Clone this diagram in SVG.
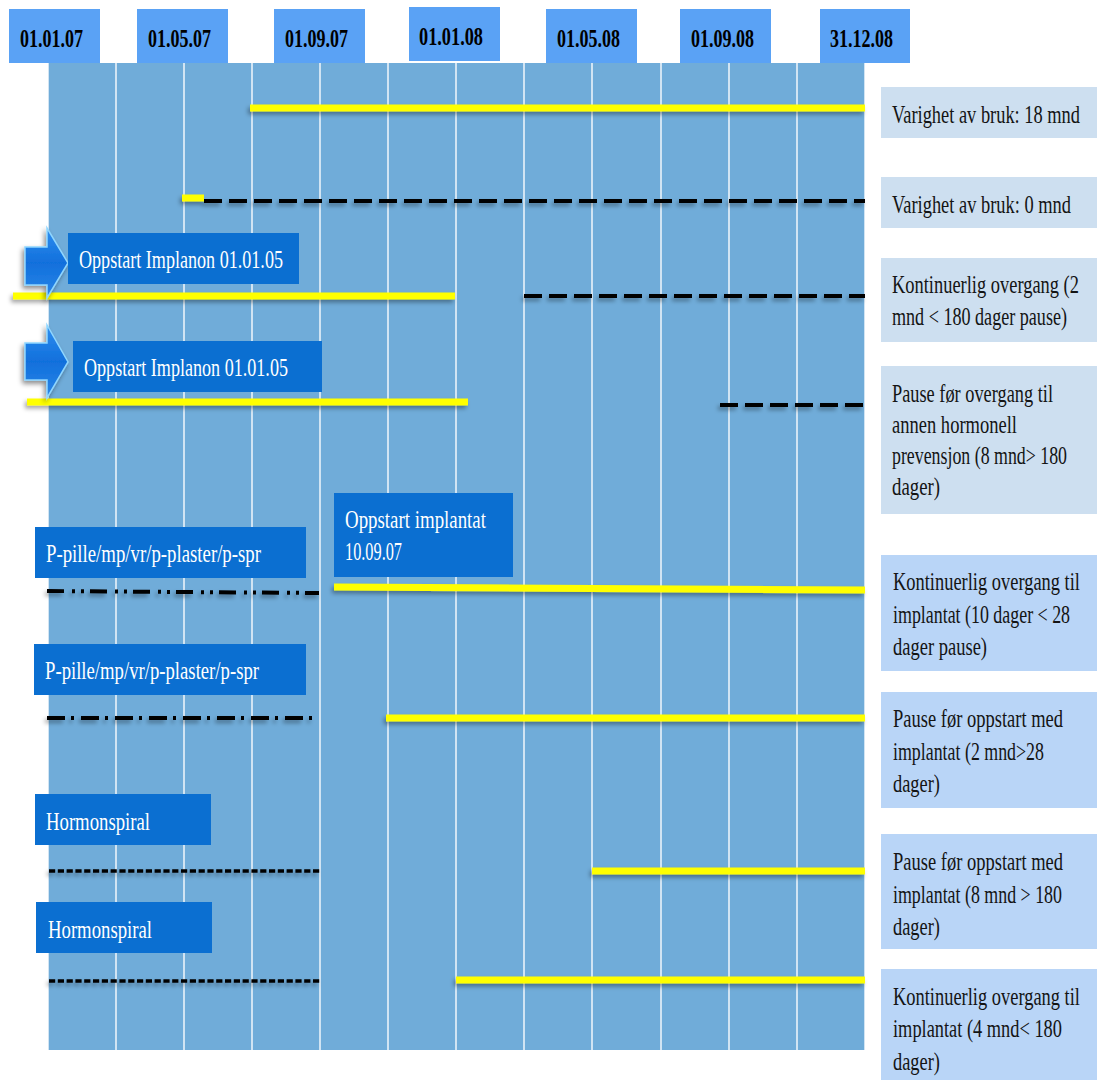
<svg xmlns="http://www.w3.org/2000/svg" width="1097" height="1080" viewBox="0 0 1097 1080">
<defs>
<style>
.hdr{fill:#5aa2f5}
.hdrt{font-family:"Liberation Serif",serif;font-weight:bold;font-size:26px;fill:#000}
.box{fill:#0b6fd1}
.boxt{font-family:"Liberation Serif",serif;font-size:26px;fill:#fff}
.lab1{fill:#cddff0}
.lab2{fill:#b9d5f7}
.labt{font-family:"Liberation Serif",serif;font-size:26px;fill:#141414}
.vl{stroke:#ffffff;stroke-width:1.6;opacity:0.85}
.yel{stroke:#ffff00;stroke-width:7;fill:none}
.dash{stroke:#000;stroke-width:4;stroke-dasharray:18 7;fill:none}
.dd{stroke:#000;stroke-width:4;stroke-dasharray:17 8 3 6 3 6;fill:none}
.dot1{stroke:#000;stroke-width:4;stroke-dasharray:18 6 3 7;fill:none}
.fine{stroke:#000;stroke-width:3.5;stroke-dasharray:6.2 2.6;fill:none}
</style>
<filter id="sh" x="-10%" y="-200%" width="120%" height="500%">
<feDropShadow dx="-2" dy="3" stdDeviation="2" flood-color="#000" flood-opacity="0.35"/>
</filter>
<filter id="ash" x="-40%" y="-40%" width="180%" height="180%">
<feDropShadow dx="-2" dy="3" stdDeviation="2.5" flood-color="#000" flood-opacity="0.45"/>
</filter>
<linearGradient id="ag" x1="0" y1="0" x2="0" y2="1">
<stop offset="0" stop-color="#2f8ef0"/>
<stop offset="0.5" stop-color="#1170dc"/>
<stop offset="1" stop-color="#2a86e8"/>
</linearGradient>
</defs>

<rect x="0" y="0" width="1097" height="1080" fill="#ffffff"/>

<g id="grid">
<rect x="48" y="63" width="817" height="987" fill="#70acd9"/>
<line class="vl" x1="48" y1="63" x2="48" y2="1050"/>
<line class="vl" x1="116" y1="63" x2="116" y2="1050"/>
<line class="vl" x1="184" y1="63" x2="184" y2="1050"/>
<line class="vl" x1="252" y1="63" x2="252" y2="1050"/>
<line class="vl" x1="320" y1="63" x2="320" y2="1050"/>
<line class="vl" x1="388" y1="63" x2="388" y2="1050"/>
<line class="vl" x1="456" y1="63" x2="456" y2="1050"/>
<line class="vl" x1="524" y1="63" x2="524" y2="1050"/>
<line class="vl" x1="592" y1="63" x2="592" y2="1050"/>
<line class="vl" x1="661" y1="63" x2="661" y2="1050"/>
<line class="vl" x1="729" y1="63" x2="729" y2="1050"/>
<line class="vl" x1="797" y1="63" x2="797" y2="1050"/>
<line class="vl" x1="865" y1="63" x2="865" y2="1050"/>
</g>

<g id="h1"><rect class="hdr" x="9" y="9" width="91" height="54"/><text class="hdrt" transform="translate(20,47) scale(0.7,1)" textLength="90" lengthAdjust="spacingAndGlyphs">01.01.07</text></g>
<g id="h2"><rect class="hdr" x="137" y="9" width="91" height="54"/><text class="hdrt" transform="translate(148,47) scale(0.7,1)" textLength="90" lengthAdjust="spacingAndGlyphs">01.05.07</text></g>
<g id="h3"><rect class="hdr" x="274" y="9" width="91" height="54"/><text class="hdrt" transform="translate(285,47) scale(0.7,1)" textLength="90" lengthAdjust="spacingAndGlyphs">01.09.07</text></g>
<g id="h4"><rect class="hdr" x="409" y="7" width="91" height="54"/><text class="hdrt" transform="translate(419,45) scale(0.7,1)" textLength="91.4" lengthAdjust="spacingAndGlyphs">01.01.08</text></g>
<g id="h5"><rect class="hdr" x="546" y="9" width="91" height="54"/><text class="hdrt" transform="translate(557,47) scale(0.7,1)" textLength="90" lengthAdjust="spacingAndGlyphs">01.05.08</text></g>
<g id="h6"><rect class="hdr" x="680" y="9" width="91" height="54"/><text class="hdrt" transform="translate(691,47) scale(0.7,1)" textLength="90" lengthAdjust="spacingAndGlyphs">01.09.08</text></g>
<g id="h7"><rect class="hdr" x="820" y="9" width="90" height="54"/><text class="hdrt" transform="translate(830,47) scale(0.7,1)" textLength="90" lengthAdjust="spacingAndGlyphs">31.12.08</text></g>

<g id="connectors" filter="url(#sh)">
<line class="yel" x1="250" y1="108" x2="865" y2="108"/>
<line class="dash" x1="204" y1="201" x2="865" y2="201"/>
<line class="yel" x1="182" y1="198" x2="204" y2="198"/>
<line class="yel" x1="13" y1="296" x2="455" y2="296"/>
<line class="dash" x1="524" y1="296" x2="865" y2="296"/>
<line class="yel" x1="27" y1="402" x2="468" y2="402"/>
<line class="dash" x1="720" y1="405" x2="865" y2="405"/>
<line class="dd" x1="47" y1="591" x2="319" y2="593"/>
<line class="yel" x1="334" y1="587" x2="865" y2="590"/>
<line class="dot1" x1="47" y1="718" x2="313" y2="718"/>
<line class="yel" x1="386" y1="718" x2="865" y2="718"/>
<line class="fine" x1="49" y1="871" x2="320" y2="871"/>
<line class="yel" x1="592" y1="871" x2="865" y2="871"/>
<line class="fine" x1="49" y1="981" x2="320" y2="981"/>
<line class="yel" x1="456" y1="980" x2="865" y2="980"/>
</g>

<g id="arrow1" filter="url(#ash)"><path d="M25,247 L47,247 L47,228 L68,263 L47,298 L47,285 L25,285 Z" fill="url(#ag)" stroke="#8fd6ff" stroke-width="1.5" stroke-linejoin="miter"/></g>
<g id="arrow2" filter="url(#ash)"><path d="M25,343 L47,343 L47,325 L68,362 L47,398 L47,380 L25,380 Z" fill="url(#ag)" stroke="#8fd6ff" stroke-width="1.5" stroke-linejoin="miter"/></g>

<g id="b1"><rect class="box" x="68" y="233" width="231" height="51"/><text class="boxt" transform="translate(79,268) scale(0.7,1)" textLength="291.4" lengthAdjust="spacingAndGlyphs">Oppstart Implanon 01.01.05</text></g>
<g id="b2"><rect class="box" x="73" y="341" width="249" height="51"/><text class="boxt" transform="translate(84,376) scale(0.7,1)" textLength="291.4" lengthAdjust="spacingAndGlyphs">Oppstart Implanon 01.01.05</text></g>
<g id="b3"><rect class="box" x="35" y="527" width="271" height="51"/><text class="boxt" transform="translate(46,562) scale(0.7,1)" textLength="307.1" lengthAdjust="spacingAndGlyphs">P-pille/mp/vr/p-plaster/p-spr</text></g>
<g id="b4"><rect class="box" x="334" y="493" width="179" height="84"/><text class="boxt" transform="translate(345,528) scale(0.7,1)" textLength="201.4" lengthAdjust="spacingAndGlyphs">Oppstart implantat</text><text class="boxt" transform="translate(345,560) scale(0.7,1)" textLength="81.4" lengthAdjust="spacingAndGlyphs">10.09.07</text></g>
<g id="b5"><rect class="box" x="34" y="644" width="272" height="51"/><text class="boxt" transform="translate(45,679) scale(0.7,1)" textLength="305.7" lengthAdjust="spacingAndGlyphs">P-pille/mp/vr/p-plaster/p-spr</text></g>
<g id="b6"><rect class="box" x="35" y="794" width="176" height="51"/><text class="boxt" transform="translate(46,830) scale(0.7,1)" textLength="148.6" lengthAdjust="spacingAndGlyphs">Hormonspiral</text></g>
<g id="b7"><rect class="box" x="36" y="902" width="176" height="51"/><text class="boxt" transform="translate(48,938) scale(0.7,1)" textLength="148.6" lengthAdjust="spacingAndGlyphs">Hormonspiral</text></g>

<g id="l1"><rect class="lab1" x="881" y="87" width="216" height="51"/><text class="labt" transform="translate(892,123) scale(0.7,1)" textLength="268.6" lengthAdjust="spacingAndGlyphs">Varighet av bruk: 18 mnd</text></g>
<g id="l2"><rect class="lab1" x="881" y="177" width="216" height="51"/><text class="labt" transform="translate(892,213) scale(0.7,1)" textLength="255.7" lengthAdjust="spacingAndGlyphs">Varighet av bruk: 0 mnd</text></g>
<g id="l3"><rect class="lab1" x="881" y="258" width="216" height="84"/><text class="labt" transform="translate(892,293) scale(0.7,1)" textLength="267.1" lengthAdjust="spacingAndGlyphs">Kontinuerlig overgang (2</text><text class="labt" transform="translate(892,325) scale(0.7,1)" textLength="250" lengthAdjust="spacingAndGlyphs">mnd &lt; 180 dager pause)</text></g>
<g id="l4"><rect class="lab1" x="881" y="366" width="216" height="148"/><text class="labt" transform="translate(892,402) scale(0.7,1)" textLength="230" lengthAdjust="spacingAndGlyphs">Pause før overgang til</text><text class="labt" transform="translate(892,433) scale(0.7,1)" textLength="178.6" lengthAdjust="spacingAndGlyphs">annen hormonell</text><text class="labt" transform="translate(892,464) scale(0.7,1)" textLength="250" lengthAdjust="spacingAndGlyphs">prevensjon (8 mnd&gt; 180</text><text class="labt" transform="translate(892,495) scale(0.7,1)" textLength="68.6" lengthAdjust="spacingAndGlyphs">dager)</text></g>
<g id="l5"><rect class="lab2" x="881" y="555" width="216" height="116"/><text class="labt" transform="translate(893,590) scale(0.7,1)" textLength="267.1" lengthAdjust="spacingAndGlyphs">Kontinuerlig overgang til</text><text class="labt" transform="translate(893,623) scale(0.7,1)" textLength="252.9" lengthAdjust="spacingAndGlyphs">implantat (10 dager &lt; 28</text><text class="labt" transform="translate(893,655) scale(0.7,1)" textLength="134.3" lengthAdjust="spacingAndGlyphs">dager pause)</text></g>
<g id="l6"><rect class="lab2" x="881" y="692" width="216" height="116"/><text class="labt" transform="translate(893,727) scale(0.7,1)" textLength="242.9" lengthAdjust="spacingAndGlyphs">Pause før oppstart med</text><text class="labt" transform="translate(893,760) scale(0.7,1)" textLength="215.7" lengthAdjust="spacingAndGlyphs">implantat (2 mnd&gt;28</text><text class="labt" transform="translate(893,792) scale(0.7,1)" textLength="67.1" lengthAdjust="spacingAndGlyphs">dager)</text></g>
<g id="l7"><rect class="lab2" x="881" y="834" width="216" height="115"/><text class="labt" transform="translate(893,870) scale(0.7,1)" textLength="242.9" lengthAdjust="spacingAndGlyphs">Pause før oppstart med</text><text class="labt" transform="translate(893,903) scale(0.7,1)" textLength="241.4" lengthAdjust="spacingAndGlyphs">implantat (8 mnd &gt; 180</text><text class="labt" transform="translate(893,935) scale(0.7,1)" textLength="67.1" lengthAdjust="spacingAndGlyphs">dager)</text></g>
<g id="l8"><rect class="lab2" x="881" y="969" width="216" height="111"/><text class="labt" transform="translate(893,1005) scale(0.7,1)" textLength="267.1" lengthAdjust="spacingAndGlyphs">Kontinuerlig overgang til</text><text class="labt" transform="translate(893,1037) scale(0.7,1)" textLength="241.4" lengthAdjust="spacingAndGlyphs">implantat (4 mnd&lt; 180</text><text class="labt" transform="translate(893,1070) scale(0.7,1)" textLength="67.1" lengthAdjust="spacingAndGlyphs">dager)</text></g>
</svg>
